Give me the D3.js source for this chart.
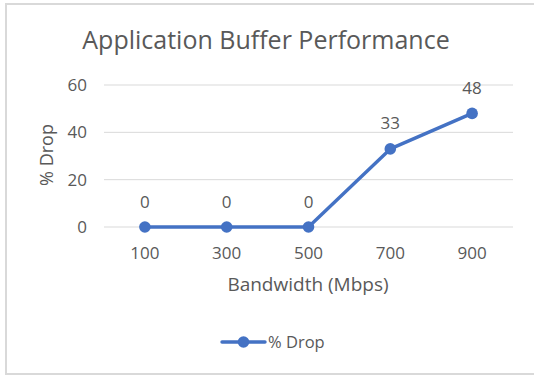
<!DOCTYPE html>
<html>
<head>
<meta charset="utf-8">
<script src="https://cdn.jsdelivr.net/npm/d3@7"></script>
<style>
  html, body { margin: 0; padding: 0; background: #fff; }
  svg { display: block; }
  text { font-family: "Open Sans", sans-serif; fill: #595959; }
</style>
</head>
<body>
<svg id="chart" width="534" height="376"></svg>
<script>
// Chart data
const categories = ["100", "300", "500", "700", "900"];
const dropValues = [0, 0, 0, 33, 48];
const yTicks = [0, 20, 40, 60];
const chartTitle = "Application Buffer Performance";
const xTitle = "Bandwidth (Mbps)";
const yTitle = "% Drop";
const seriesName = "% Drop";

const FONT = "'Open Sans', sans-serif";
const plot = { left: 104, right: 513, top: 85, bottom: 227 };
const blue = "#4472C4";

const svg = d3.select("#chart");

// Chart area frame
svg.append("rect")
  .attr("x", 6).attr("y", 4)
  .attr("width", 534).attr("height", 370)
  .attr("fill", "#fff")
  .attr("stroke", "#d9d9d9").attr("stroke-width", 2);

const x = d3.scaleBand().domain(categories).range([plot.left, plot.right]);
const y = d3.scaleLinear().domain([0, 60]).range([plot.bottom, plot.top]);

// Horizontal gridlines
svg.append("g").selectAll("line").data(yTicks).join("line")
  .attr("x1", plot.left).attr("x2", plot.right)
  .attr("y1", d => y(d)).attr("y2", d => y(d))
  .attr("stroke", "#d9d9d9").attr("stroke-width", 1);

// Y axis tick labels
const yAxis = d3.axisLeft(y).tickValues(yTicks).tickSize(0).tickPadding(17);
const gy = svg.append("g").attr("transform", `translate(${plot.left},0)`).call(yAxis);
gy.select(".domain").remove();
gy.selectAll("text").attr("font-size", 17).style("fill", "#595959")
  .attr("font-family", FONT);

// X axis tick labels
const xAxis = d3.axisBottom(x).tickSize(0).tickPadding(20);
const gx = svg.append("g").attr("transform", `translate(0,${plot.bottom})`).call(xAxis);
gx.select(".domain").remove();
gx.selectAll("text").attr("font-size", 17).style("fill", "#595959")
  .attr("font-family", FONT);

// Title
svg.append("text")
  .attr("x", 266).attr("y", 49)
  .attr("text-anchor", "middle")
  .attr("font-size", 25)
  .text(chartTitle);

// Axis titles
svg.append("text")
  .attr("x", 308).attr("y", 291)
  .attr("text-anchor", "middle")
  .attr("font-size", 19)
  .text(xTitle);

svg.append("text")
  .attr("transform", "translate(53,155) rotate(-90)")
  .attr("text-anchor", "middle")
  .attr("font-size", 18)
  .text(yTitle);

// Series line
const pts = categories.map((c, i) => ({ c, v: dropValues[i] }));
const cx = d => x(d.c) + x.bandwidth() / 2;
const line = d3.line().x(cx).y(d => y(d.v));
svg.append("path").datum(pts)
  .attr("d", line)
  .attr("fill", "none")
  .attr("stroke", blue).attr("stroke-width", 3.4)
  .attr("stroke-linejoin", "round").attr("stroke-linecap", "round");

svg.append("g").selectAll("circle").data(pts).join("circle")
  .attr("cx", cx)
  .attr("cy", d => y(d.v))
  .attr("r", 5.8)
  .attr("fill", blue);

// Data labels
svg.append("g").selectAll("text").data(pts).join("text")
  .attr("x", cx)
  .attr("y", d => y(d.v) - 19.5)
  .attr("text-anchor", "middle")
  .attr("font-size", 17)
  .text(d => d.v);

// Legend
const lg = svg.append("g");
lg.append("line").attr("x1", 222).attr("x2", 265).attr("y1", 342).attr("y2", 342)
  .attr("stroke", blue).attr("stroke-width", 3.4).attr("stroke-linecap", "round");
lg.append("circle").attr("cx", 243.5).attr("cy", 342).attr("r", 5.8).attr("fill", blue);
lg.append("text").attr("x", 268).attr("y", 348).attr("font-size", 16.5).text(seriesName);
</script>
</body>
</html>
